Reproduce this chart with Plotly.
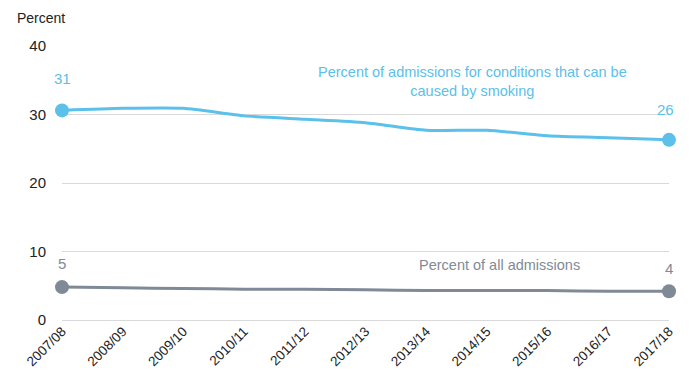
import plotly.graph_objects as go

years = ["2007/08", "2008/09", "2009/10", "2010/11", "2011/12", "2012/13",
         "2013/14", "2014/15", "2015/16", "2016/17", "2017/18"]
smoking = [30.6, 30.9, 30.9, 29.8, 29.3, 28.8, 27.7, 27.7, 26.9, 26.6, 26.3]
all_adm = [4.8, 4.7, 4.6, 4.5, 4.5, 4.4, 4.3, 4.3, 4.3, 4.2, 4.2]

blue = "#5BC0EA"
gray = "#7F8A96"
font = "Liberation Sans, Arial, sans-serif"

fig = go.Figure()
for vals, col in [(smoking, blue), (all_adm, gray)]:
    fig.add_trace(go.Scatter(x=years, y=vals, mode="lines", cliponaxis=False,
                             line=dict(color=col, width=3, shape="spline", smoothing=0.6),
                             hoverinfo="skip", showlegend=False))
    fig.add_trace(go.Scatter(x=[years[0], years[-1]], y=[vals[0], vals[-1]], mode="markers",
                             cliponaxis=False,
                             marker=dict(color=col, size=14),
                             showlegend=False))

ann = [
    dict(x=years[0], y=smoking[0], text=str(round(smoking[0])), color=blue, yshift=32, xshift=0),
    dict(x=years[-1], y=smoking[-1], text=str(round(smoking[-1])), color=blue, yshift=30, xshift=-4),
    dict(x=years[0], y=all_adm[0], text=str(round(all_adm[0])), color=gray, yshift=24, xshift=0),
    dict(x=years[-1], y=all_adm[-1], text=str(round(all_adm[-1])), color=gray, yshift=23, xshift=0),
]
annotations = []
for a in ann:
    annotations.append(dict(x=a["x"], y=a["y"], text=a["text"], showarrow=False,
                            yshift=a["yshift"], xshift=a["xshift"],
                            font=dict(family=font, size=15, color=a["color"])))
annotations.append(dict(x=6.77, y=34.8, xref="x", yref="y",
                        text="Percent of admissions for conditions that can be<br>caused by smoking",
                        showarrow=False, align="center",
                        font=dict(family=font, size=14.5, color=blue)))
annotations.append(dict(x=7.2, y=8.1, xref="x", yref="y",
                        text="Percent of all admissions", showarrow=False,
                        font=dict(family=font, size=14.5, color=gray)))
annotations.append(dict(x=0, y=1, xref="paper", yref="paper", xanchor="left", yanchor="bottom",
                        xshift=-47, yshift=18, text="Percent", showarrow=False,
                        font=dict(family=font, size=14, color="#222")))

fig.update_layout(
    width=697, height=384,
    margin=dict(l=62, r=28, t=46, b=64),
    plot_bgcolor="white", paper_bgcolor="white",
    annotations=annotations,
    xaxis=dict(type="category", range=[0, 10], showgrid=False, showline=False,
               tickangle=-45, tickfont=dict(family=font, size=13.5, color="#222"),
               ticks="", automargin=False),
    yaxis=dict(range=[0, 40], tickvals=[0, 10, 20, 30, 40], showgrid=True,
               gridcolor="#d9d9d9", gridwidth=1, zeroline=True, zerolinecolor="#d9d9d9",
               zerolinewidth=1, showline=False,
               tickfont=dict(family=font, size=15, color="#222"), ticks="outside",
               ticklen=12, tickcolor="rgba(0,0,0,0)", automargin=False),
)
fig.write_html("out.html")
